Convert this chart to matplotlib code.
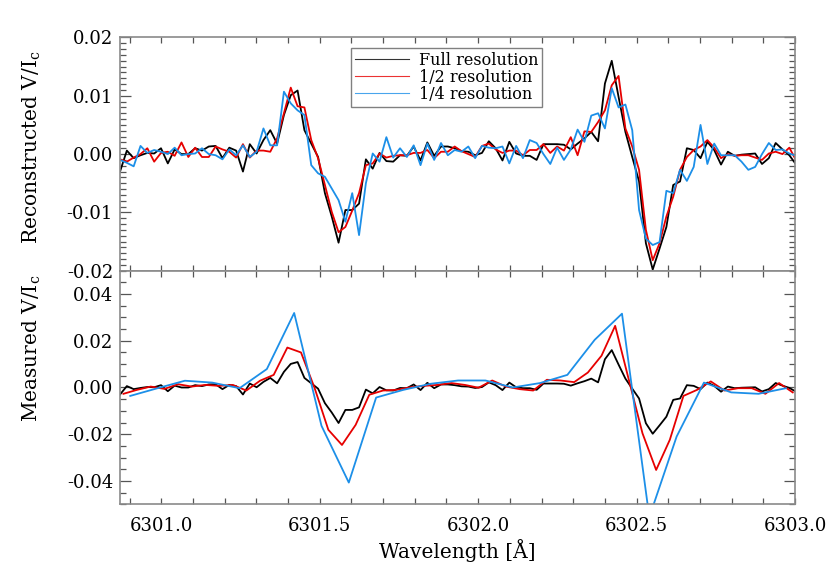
import numpy as np
import matplotlib
matplotlib.use('Agg')
from matplotlib import pyplot as plt
from matplotlib.ticker import MultipleLocator, FormatStrFormatter

# spectral sampling (Hinode SP pixel) and start wavelength
wl_start = 6300.870
wl_step = 0.02155

# full resolution V/Ic (x 1e-3), identical for measured and reconstructed
v_full = [-3.0, 0.6, -0.7, -0.2, 0.2, 0.1, 1.0, -1.6, 0.8, 0.0,
          0.0, 1.0, 0.6, 1.3, 1.4, -0.7, 1.1, 0.6, -3.0, 1.7,
          0.1, 2.4, 4.1, 1.8, 6.7, 10.1, 10.9, 4.1, 1.8, -0.5,
          -6.7, -10.7, -15.2, -9.6, -9.6, -8.5, -0.9, -2.5, 0.2, -1.2,
          -1.3, -0.2, -0.3, 1.3, -1.1, 2.0, -0.3, 1.3, 1.3, 1.0,
          0.5, 0.4, -0.2, 0.2, 2.2, 1.0, -1.1, 2.1, 0.1, -0.3,
          -0.3, -1.0, 1.7, 1.7, 1.7, 1.6, 0.8, 1.8, 2.7, 3.8,
          2.2, 12.1, 16.0, 9.8, 3.8, -0.5, -4.7, -15.3, -19.8, -16.2,
          -12.5, -5.3, -4.7, 1.0, 0.7, -0.7, 2.1, 0.7, -1.8, 0.4,
          -0.3, -0.1, 0.0, 0.1, -1.7, -0.7, 1.9, 0.8, -0.2, -1.8]

# reconstructed from 1/2 resolution
v_half_rec = [-0.9, -1.3, -0.6, 0.0, 1.0, -1.3, 0.2, 0.4, -0.3, 2.0,
              -0.5, 1.1, -0.5, -0.5, 1.3, 0.8, 0.4, -0.6, 1.7, -0.6,
              0.6, 0.6, 0.4, 2.7, 7.0, 11.4, 8.2, 8.0, 2.4, -0.7,
              -5.3, -9.9, -13.4, -12.5, -9.7, -6.7, -1.9, -1.6, 0.1, -0.6,
              -0.3, -0.2, -0.2, 0.2, 0.2, 0.7, -0.7, 0.4, 0.4, 1.3,
              0.5, 0.0, -0.5, 1.4, 1.8, 0.8, 0.2, 0.6, 0.6, -0.2,
              0.7, 0.7, 1.7, 0.2, 1.3, 0.6, 2.9, -0.2, 3.9, 3.8,
              5.5, 7.5, 11.8, 13.4, 4.4, 1.3, -2.7, -13.0, -18.2, -15.3,
              -10.7, -7.3, -2.7, -0.5, 0.7, 1.3, 2.4, 1.1, -0.7, 0.0,
              -0.3, -0.2, -0.2, -0.6, -1.0, 0.1, 0.4, 0.0, 1.1, -1.1]

# reconstructed from 1/4 resolution
v_quarter_rec = [-1.0, -1.5, -2.1, 1.4, 0.2, 0.7, 0.4, 0.0, 1.1, -0.2,
                 0.0, 0.1, 1.0, 0.0, -0.2, -0.9, 0.8, -0.2, 1.5, -0.5,
                 0.4, 4.4, 1.5, 1.5, 10.7, 8.7, 7.5, 6.7, -1.9, -3.3,
                 -3.9, -5.9, -7.9, -11.6, -6.7, -13.9, -5.0, 0.1, -1.3, 2.9,
                 -0.6, 1.0, -0.5, 1.5, -1.9, 1.8, -1.0, 1.9, -0.2, 0.7,
                 0.4, 1.3, -0.7, 1.4, 1.1, 1.0, 1.3, -1.6, 1.4, -0.7,
                 2.4, 1.9, 0.0, -1.7, 1.1, -1.0, 0.8, 4.2, 2.1, 6.6,
                 7.0, 4.4, 11.3, 8.0, 8.5, 4.1, -9.6, -14.5, -15.6, -15.1,
                 -6.3, -6.7, -2.7, -4.6, -2.2, 5.0, -1.7, 1.8, -0.2, -0.2,
                 -0.2, -1.3, -2.7, -2.2, 0.0, 1.9, 0.7, 0.8, 0.1, -0.3]

# measured, binned to 1/2 and 1/4 resolution
v_half_meas = [-2.7, -1.0, 0.4, -0.6, 1.4, 0.4, 1.1, 0.7, 1.1, -1.3,
               2.9, 5.4, 17.1, 15.0, -0.3, -18.1, -24.6, -16.0, -3.1, -1.3,
               -1.0, 0.1, 0.7, 1.1, 1.9, 1.1, -0.1, 3.0, 0.4, -0.7,
               -1.3, 3.3, 3.0, 2.3, 6.4, 13.6, 26.4, 3.3, -19.6, -35.3,
               -22.4, -3.6, -1.0, 2.6, -1.3, -0.3, -0.3, -2.7, 1.9, -2.1]

v_quarter_meas = [-3.6, -0.3, 2.9, 2.1, -0.3, 7.9, 31.9, -16.4, -40.7, -4.3,
                  -1.0, 1.6, 3.0, 3.0, 0.0, 1.9, 5.4, 20.4, 31.6, -55.5,
                  -21.0, 2.1, -2.1, -2.7, -0.3]

labels = ['Full resolution', '1/2 resolution', '1/4 resolution']
colors = ['black', '#e60000', '#1c8fe8']

wl_full = wl_start + wl_step * np.arange(len(v_full))
wl_half = wl_start + wl_step * (2 * np.arange(len(v_half_meas)) + 0.5)
wl_quarter = wl_start + wl_step * (4 * np.arange(len(v_quarter_meas)) + 1.5)

plt.rcParams['font.family'] = 'DejaVu Serif'
plt.rcParams['mathtext.fontset'] = 'dejavuserif'
plt.rcParams['font.size'] = 13

fig = plt.figure(figsize=(8.3, 5.81), dpi=100)
ax1 = fig.add_axes([0.1446, 0.5341, 0.8133, 0.4014])
ax2 = fig.add_axes([0.1446, 0.1320, 0.8133, 0.4021])

lw = 1.3
ax1.plot(wl_full, np.array(v_full) * 1e-3, color=colors[0], lw=lw)
ax1.plot(wl_full, np.array(v_half_rec) * 1e-3, color=colors[1], lw=lw)
ax1.plot(wl_full, np.array(v_quarter_rec) * 1e-3, color=colors[2], lw=lw)

ax2.plot(wl_full, np.array(v_full) * 1e-3, color=colors[0], lw=lw)
ax2.plot(wl_half, np.array(v_half_meas) * 1e-3, color=colors[1], lw=lw)
ax2.plot(wl_quarter, np.array(v_quarter_meas) * 1e-3, color=colors[2], lw=lw)

handles = [plt.Line2D([], [], color=c, lw=0.8, alpha=0.8) for c in colors]
leg = ax1.legend(handles, labels, loc='upper left', bbox_to_anchor=(0.342, 0.955),
                 borderaxespad=0, fontsize=11.5, handlelength=3.4, labelspacing=0.0,
                 borderpad=0.25, handletextpad=0.6, fancybox=False, framealpha=1)
leg.get_frame().set_edgecolor('#808080')
leg.get_frame().set_linewidth(1.0)

ax1.set_ylim(-0.02, 0.02)
ax2.set_ylim(-0.05, 0.05)
ax1.yaxis.set_major_locator(MultipleLocator(0.01))
ax1.yaxis.set_minor_locator(MultipleLocator(0.001))
ax2.yaxis.set_major_locator(MultipleLocator(0.02))
ax2.yaxis.set_minor_locator(MultipleLocator(0.005))

for ax in (ax1, ax2):
    ax.set_xlim(6300.870, 6303.0)
    ax.xaxis.set_major_locator(MultipleLocator(0.5))
    ax.xaxis.set_minor_locator(MultipleLocator(0.1))
    ax.xaxis.set_major_formatter(FormatStrFormatter('%.1f'))
    ax.yaxis.set_major_formatter(FormatStrFormatter('%.2f'))
    ax.tick_params(which='both', direction='in', top=True, right=True,
                   color='#555555', width=0.9)
    ax.tick_params(axis='y', which='major', length=8, pad=5)
    ax.tick_params(axis='y', which='minor', length=4.5)
    ax.tick_params(axis='x', which='both', length=4)
    ax.tick_params(axis='x', which='major', pad=9)
    for s in ax.spines.values():
        s.set_color('#8a8a8a')
        s.set_linewidth(1.2)

ax1.tick_params(axis='x', labelbottom=False)
ax2.set_xlabel('Wavelength [Å]', fontsize=14.5, labelpad=3)

fig.text(32 / 830, 1 - 147 / 581, 'Reconstructed V/I$_\\mathrm{c}$', rotation=90,
         ha='center', va='center', fontsize=14.5)
fig.text(32 / 830, 1 - 348 / 581, 'Measured V/I$_\\mathrm{c}$', rotation=90,
         ha='center', va='center', fontsize=14.5)

fig.savefig('out.png', dpi=100)
